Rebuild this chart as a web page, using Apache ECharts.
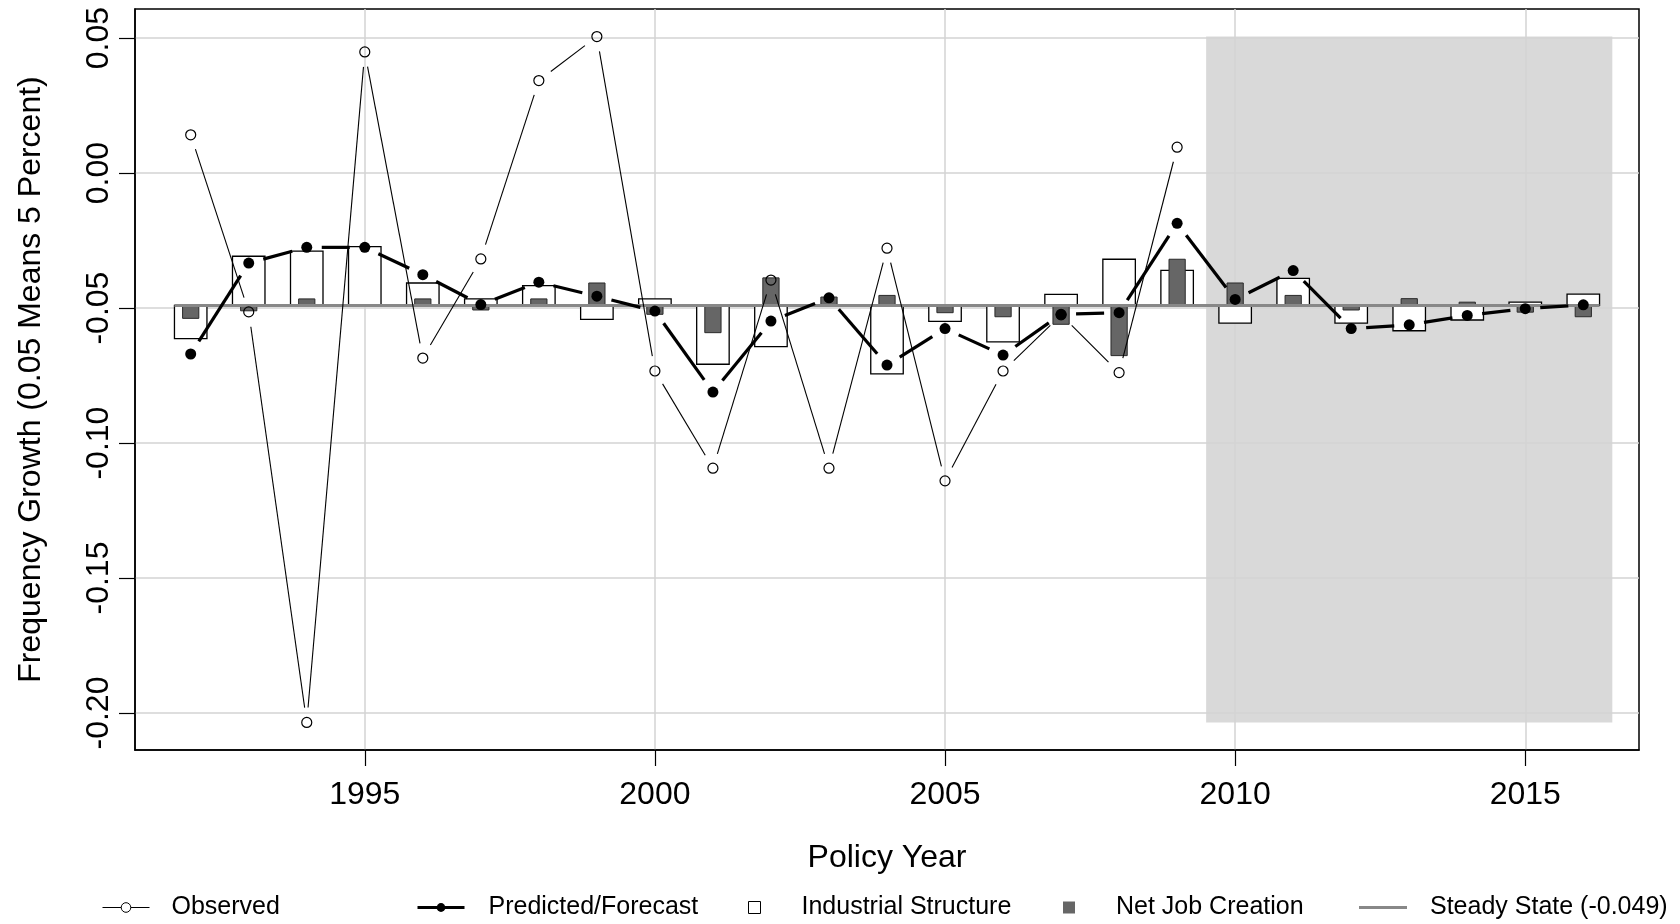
<!DOCTYPE html>
<html>
<head>
<meta charset="utf-8">
<script src="https://cdn.jsdelivr.net/npm/echarts@6/dist/echarts.min.js"></script>
<style>html,body{margin:0;padding:0;background:#fff}#c{width:1680px;height:924px}</style>
</head>
<body>
<div id="c"></div>
<script>
// ---------------- data ----------------
const years = [1992,1993,1994,1995,1996,1997,1998,1999,2000,2001,2002,2003,2004,2005,2006,2007,2008,2009,2010,2011,2012,2013,2014,2015,2016];
const observed = [0.0142,-0.0514,-0.2035,0.0449,-0.0685,-0.0318,0.0343,0.0506,-0.0733,-0.1093,-0.0396,-0.1093,-0.0278,-0.1140,-0.0733,-0.0525,-0.0739,0.0096];
const predicted = [-0.0670,-0.0333,-0.0275,-0.0275,-0.0376,-0.0487,-0.0404,-0.0456,-0.0511,-0.0811,-0.0548,-0.0462,-0.0711,-0.0576,-0.0674,-0.0523,-0.0517,-0.0186,-0.0468,-0.0361,-0.0576,-0.0562,-0.0527,-0.0502,-0.0488];
const industrial = [-0.0613,-0.0308,-0.0289,-0.0272,-0.0407,-0.0466,-0.0417,-0.0542,-0.0466,-0.0708,-0.0643,-0.0487,-0.0744,-0.0549,-0.0625,-0.0449,-0.0319,-0.0360,-0.0556,-0.0390,-0.0556,-0.0584,-0.0544,-0.0478,-0.0448];
const netJob = [-0.0538,-0.0510,-0.0466,-0.0487,-0.0466,-0.0507,-0.0466,-0.0407,-0.0523,-0.0591,-0.0388,-0.0459,-0.0453,-0.0517,-0.0532,-0.0560,-0.0676,-0.0319,-0.0407,-0.0453,-0.0507,-0.0465,-0.0478,-0.0515,-0.0532];
const steadyState = -0.049;
const forecastStart = 2010;
const xTicks = [1995,2000,2005,2010,2015];
const yTicks = [-0.20,-0.15,-0.10,-0.05,0.00,0.05];
const legendNames = ['Observed','Predicted/Forecast','Industrial Structure','Net Job Creation','Steady State (-0.049)'];

// ---------------- styling ----------------
const FONT = "'Liberation Sans', Arial, sans-serif";
const IND_W = 0.56, NET_W = 0.28, GAP = 15;
const obsYears = years.slice(0, observed.length);
const obsMin = Math.min.apply(null, observed), obsMax = Math.max.apply(null, observed);

function segs(xs, ys) {
  const out = [];
  for (let i = 0; i < ys.length - 1; i++) out.push([xs[i], ys[i], xs[i+1], ys[i+1]]);
  return out;
}
function gapRender(width) {
  return function (params, api) {
    const p1 = api.coord([api.value(0), api.value(1)]);
    const p2 = api.coord([api.value(2), api.value(3)]);
    const dx = p2[0]-p1[0], dy = p2[1]-p1[1];
    const d = Math.hypot(dx, dy);
    if (d <= 2*GAP) return null;
    const ux = dx/d, uy = dy/d;
    return {type:'line', shape:{x1:p1[0]+ux*GAP, y1:p1[1]+uy*GAP, x2:p2[0]-ux*GAP, y2:p2[1]-uy*GAP},
            style:{stroke:'#000', lineWidth:width, lineCap:'butt'}};
  };
}
function barRender(w, fill, stroke, lw) {
  return function (params, api) {
    const x = api.value(0), v = api.value(1);
    const a = api.coord([x - w/2, steadyState]);
    const b = api.coord([x + w/2, v]);
    return {type:'rect', shape:{x:Math.min(a[0],b[0]), y:Math.min(a[1],b[1]), width:Math.abs(b[0]-a[0]), height:Math.abs(b[1]-a[1])},
            style:{fill:fill, stroke:stroke, lineWidth:lw}};
  };
}

const chart = echarts.init(document.getElementById('c'), null, {renderer:'canvas'});

const legendBase = {
  top: 895, padding: 0, itemGap: 0, selectedMode: false,
  textStyle: {fontSize: 25, color: '#000', fontFamily: FONT}
};
function lg(left, pad, extra, item) {
  return Object.assign({}, legendBase, {left: left, textStyle: Object.assign({}, legendBase.textStyle, {padding:[0,0,0,pad]}), data:[item]}, extra);
}

const option = {
  animation: false,
  backgroundColor: '#fff',
  textStyle: {fontFamily: FONT, color: '#000'},
  grid: {left: 135, right: 41, top: 9, bottom: 174, show: true, borderColor: '#000', borderWidth: 1.5, backgroundColor: 'transparent'},
  legend: [
    lg(102, 17, {itemWidth: 47, itemHeight: 12},
       {name: legendNames[0], lineStyle:{color:'#000', width:1, opacity:1}, itemStyle:{color:'#fff', borderColor:'#000', borderWidth:1}}),
    lg(416, 19, {itemWidth: 47, itemHeight: 11},
       {name: legendNames[1], lineStyle:{color:'#000', width:3, opacity:1}, itemStyle:{color:'#000', borderWidth:0}}),
    lg(748, 36, {itemWidth: 12, itemHeight: 12},
       {name: legendNames[2], icon:'rect', itemStyle:{color:'#fff', borderColor:'#000', borderWidth:1}}),
    lg(1063, 36, {itemWidth: 12, itemHeight: 12},
       {name: legendNames[3], icon:'rect', itemStyle:{color:'#666', borderColor:'#666', borderWidth:0}}),
    lg(1359, 18, {itemWidth: 48, itemHeight: 3},
       {name: legendNames[4], icon:'rect', itemStyle:{color:'#888', borderWidth:0}})
  ],
  xAxis: {
    type: 'value', min: 1991.04, max: 2016.96,
    name: 'Policy Year', nameLocation: 'middle', nameGap: 92,
    nameTextStyle: {fontSize: 32, color: '#000', fontFamily: FONT},
    axisLine: {show: true, onZero: false, lineStyle: {color: '#000', width: 1.5}},
    axisTick: {show: true, length: 16, customValues: xTicks, lineStyle: {color: '#000', width: 1.2}},
    axisLabel: {customValues: xTicks, fontSize: 32, color: '#000', margin: 29, fontFamily: FONT, formatter: v => String(Math.round(v))},
    splitLine: {show: true, lineStyle: {color: '#d3d3d3', width: 1.5}}
  },
  yAxis: {
    type: 'value', min: -0.2137, max: 0.0608,
    name: 'Frequency Growth (0.05 Means 5 Percent)', nameLocation: 'middle', nameGap: 88,
    nameTextStyle: {fontSize: 32, color: '#000', fontFamily: FONT},
    axisLine: {show: true, onZero: false, lineStyle: {color: '#000', width: 1.5}},
    axisTick: {show: true, length: 16, customValues: yTicks, lineStyle: {color: '#000', width: 1.2}},
    axisLabel: {customValues: yTicks, rotate: 90, fontSize: 32, color: '#000', margin: 20, fontFamily: FONT, formatter: v => v.toFixed(2)},
    splitLine: {show: true, lineStyle: {color: '#d3d3d3', width: 1.5}}
  },
  series: [
    {
      name: '_forecastArea', type: 'custom', z: -1, silent: true,
      data: [[forecastStart - 0.5, obsMin, years[years.length-1] + 0.5, obsMax]],
      encode: {x: [0, 2], y: [1, 3]},
      renderItem: function (params, api) {
        const a = api.coord([api.value(0), api.value(1)]);
        const b = api.coord([api.value(2), api.value(3)]);
        return {type:'rect', shape:{x:a[0], y:b[1], width:b[0]-a[0], height:a[1]-b[1]}, style:{fill:'#d9d9d9'}};
      }
    },
    {
      name: legendNames[2], type: 'custom', z: 2, silent: true,
      data: years.map((y, i) => [y, industrial[i]]),
      encode: {x: 0, y: 1},
      renderItem: barRender(IND_W, '#fff', '#000', 1.3)
    },
    {
      name: legendNames[3], type: 'custom', z: 3, silent: true,
      data: years.map((y, i) => [y, netJob[i]]),
      encode: {x: 0, y: 1},
      renderItem: barRender(NET_W, '#666', '#2a2a2a', 1)
    },
    {
      name: legendNames[4], type: 'line', z: 4, silent: true, symbol: 'none',
      data: [[years[0] - IND_W/2, steadyState], [years[years.length-1] + IND_W/2, steadyState]],
      lineStyle: {color: '#888', width: 3}, itemStyle: {color: '#888'},
      emphasis: {disabled: true}
    },
    {
      name: legendNames[0], type: 'line', z: 6, silent: true,
      data: obsYears.map((y, i) => [y, observed[i]]),
      symbol: 'circle', symbolSize: 10, showSymbol: true, showAllSymbol: true,
      lineStyle: {opacity: 0, width: 0},
      itemStyle: {color: 'rgba(0,0,0,0)', borderColor: '#000', borderWidth: 1.2},
      emphasis: {disabled: true}
    },
    {
      name: '_obsLine', type: 'custom', z: 5, silent: true,
      data: segs(obsYears, observed), encode: {x: [0, 2], y: [1, 3]},
      renderItem: gapRender(1.1)
    },
    {
      name: legendNames[1], type: 'line', z: 8, silent: true,
      data: years.map((y, i) => [y, predicted[i]]),
      symbol: 'circle', symbolSize: 11, showSymbol: true, showAllSymbol: true,
      lineStyle: {opacity: 0, width: 0},
      itemStyle: {color: '#000', borderWidth: 0},
      emphasis: {disabled: true}
    },
    {
      name: '_predLine', type: 'custom', z: 7, silent: true,
      data: segs(years, predicted), encode: {x: [0, 2], y: [1, 3]},
      renderItem: gapRender(3.2)
    }
  ]
};
chart.setOption(option);
</script>
</body>
</html>
